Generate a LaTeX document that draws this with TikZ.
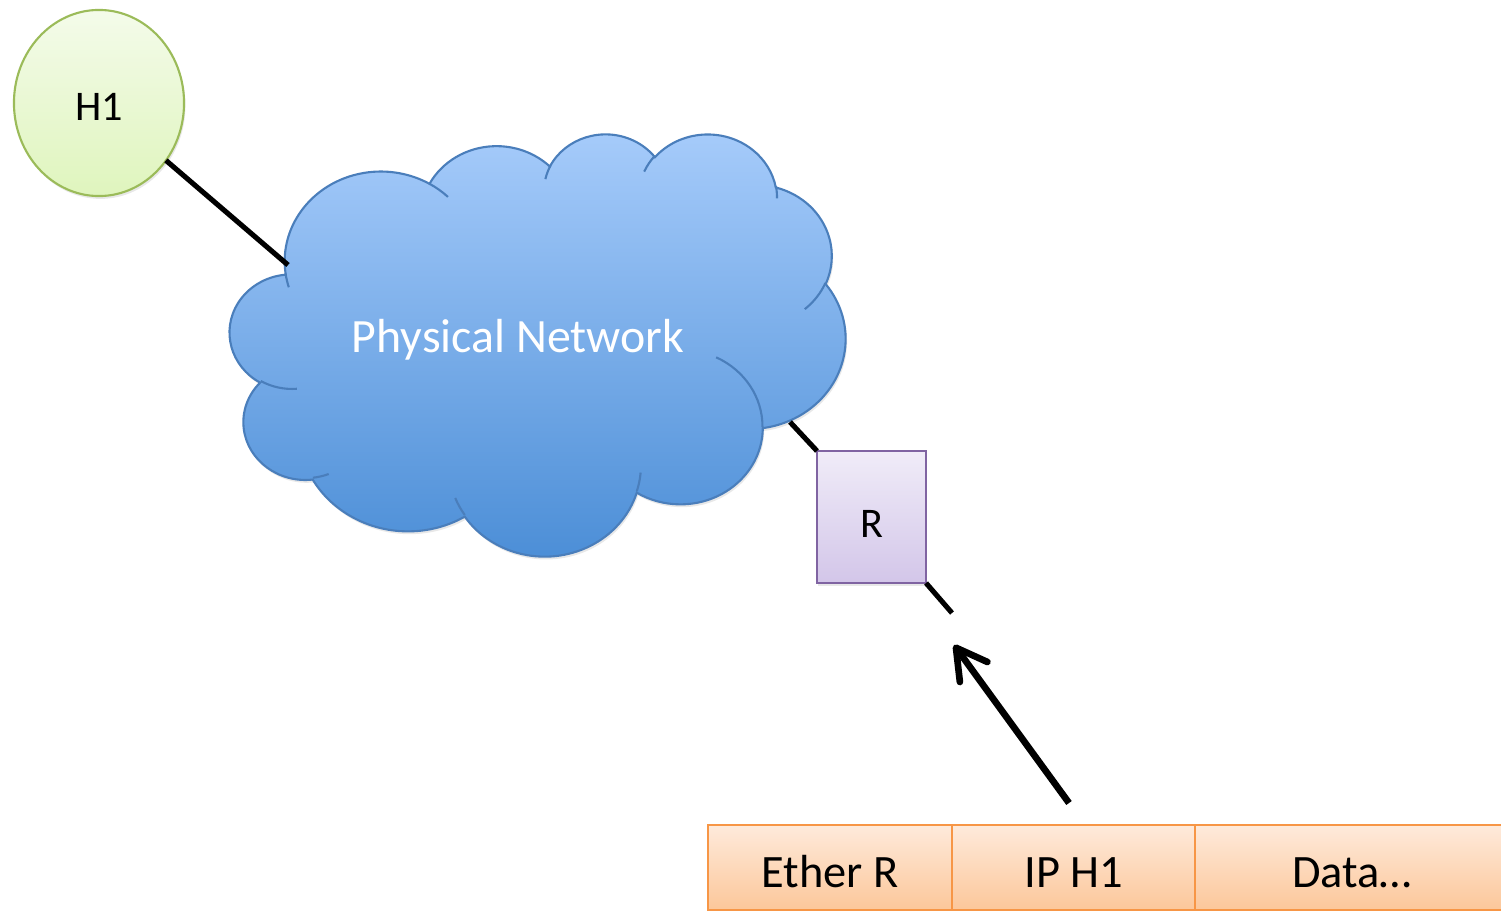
\documentclass[tikz,border=0pt]{standalone}
\usepackage{fontspec}
\setmainfont{Carlito}
\usetikzlibrary{shapes.geometric,arrows.meta,shadows}
\makeatletter
\pgfmathdeclarefunction{vp}{3}{%
  \begingroup
    \pgfmathparse{atan2((#1)*sin(#3),(#2)*cos(#3))-(#3)}%
    \let\vpd\pgfmathresult
    \pgfmathparse{(#3)+\vpd-360*round(\vpd/360)}%
    \pgfmath@smuggleone\pgfmathresult
  \endgroup}
\makeatother
\newcommand\carc[4]{arc[x radius=#1, y radius=#2, start angle={vp(#1,#2,#3)}, end angle={vp(#1,#2,(#3)+(#4))}]}
\definecolor{hosttop}{HTML}{F4FBEA}
\definecolor{hostbot}{HTML}{DFF5BD}
\definecolor{hostdraw}{HTML}{9BBB59}
\definecolor{rtrtop}{HTML}{F0ECF8}
\definecolor{rtrbot}{HTML}{D3C6E9}
\definecolor{rtrdraw}{HTML}{8064A2}
\definecolor{cloudtop}{HTML}{A7CCFB}
\definecolor{cloudbot}{HTML}{4A8DD6}
\definecolor{clouddraw}{HTML}{4A7EBB}
\definecolor{pkttop}{HTML}{FEEADB}
\definecolor{pktbot}{HTML}{FCC79A}
\definecolor{pktdraw}{HTML}{F79646}
\begin{document}
\begin{tikzpicture}[x=0.01cm,y=-0.01cm,
  softshadow/.style={drop shadow={opacity=0.18, shadow xshift=0.4pt, shadow yshift=-0.8pt}},
  host/.style={ellipse, minimum width=1.7cm, minimum height=1.86cm, inner sep=0pt, outer sep=0pt,
    draw=hostdraw, line width=0.6pt, top color=hosttop, bottom color=hostbot,
    font=\fontsize{12}{14}\selectfont, text height=3.4mm, text depth=0pt, softshadow},
  router/.style={rectangle, minimum width=1.09cm, minimum height=1.32cm, inner sep=0pt, outer sep=0pt,
    draw=rtrdraw, line width=0.6pt, top color=rtrtop, bottom color=rtrbot,
    font=\fontsize{12}{14}\selectfont, text height=4.0mm, text depth=0pt, softshadow},
  pkt/.style={rectangle, minimum height=0.85cm, inner sep=0pt, outer sep=0pt,
    draw=pktdraw, line width=0.6pt, top color=pkttop, bottom color=pktbot,
    font=\fontsize{13.2}{15}\selectfont, text height=3.9mm, text depth=0pt},
  cloudshape/.style={draw=clouddraw, line width=0.6pt, top color=cloudtop, bottom color=cloudbot, softshadow},
  cloudline/.style={draw=clouddraw, line width=0.6pt},
  cloudtext/.style={anchor=base, text=white, font=\fontsize{13.6}{16}\selectfont, inner sep=0pt},
  link/.style={line width=1.45pt, black},
  bigarrow/.style={line width=1.9pt, black, -{Straight Barb[round, length=3mm, width=3.4mm]}}
]
\fill[white] (0,0) rectangle (1501,912);
\useasboundingbox (0,0) rectangle (1501,912);

% cloud
\begin{scope}[shift={(230,133)}, x=0.014236cm, y=-0.0097685cm]
  \path[cloudshape] (39,143.70)
    \carc{67.53}{91.90}{-190.4875}{123.7805}
    \carc{53.33}{72.67}{-144.1024}{89.9452}
    \carc{43.65}{59.45}{-145.8079}{99.7230}
    \carc{48.57}{65.95}{-130.9861}{117.2417}
    \carc{53.33}{72.73}{-78.7089}{109.0269}
    \carc{67.75}{92.20}{-46.2673}{130.2690}
    \carc{57.85}{78.67}{0.6250}{114.0333}
    \carc{67.52}{92.15}{22.4516}{115.1726}
    \carc{77.20}{105.43}{66.2426}{75.7110}
    \carc{43.60}{59.18}{-274.9421}{146.7356}
    \carc{43.45}{59.45}{-246.8285}{152.5189}
    -- cycle;
  \path[cloudline]
    (46.93,261.77) \carc{43.45}{59.45}{86.742}{26.4295}
    (69.28,348.99) \carc{43.60}{59.18}{73.6105}{11.4475}
    (164.78,390.90) \carc{67.52}{92.15}{137.6242}{14.0811}
    (288.27,347.51) \carc{67.52}{92.15}{6.4533}{15.9984}
    (341.29,229.54) \carc{57.85}{78.67}{-70.2924}{70.9174}
    (417.98,153.54) \carc{53.33}{72.73}{30.3180}{27.7515}
    (383.24,54.26) \carc{48.57}{65.95}{-13.7443}{14.8589}
    (290.78,39.52) \carc{48.57}{65.95}{-149.1815}{18.1954}
    (221.41,47.20) \carc{43.65}{59.45}{-163.4943}{17.6864}
    (140.00,51.92) \carc{67.53}{91.90}{-66.7070}{12.3194}
    (41.27,157.89) \carc{67.53}{91.90}{157.6544}{11.8582};
\end{scope}
\node[cloudtext] (pn) at (518,352) {Physical Network};

% nodes
\node[host] (H1) at (99,103) {H1};
\node[router] (R) at (871.5,517) {R};

% packet
\node[pkt, minimum width=2.44cm, anchor=north west] (eth) at (708,825) {Ether R};
\node[pkt, minimum width=2.43cm, anchor=north west] (ip) at (eth.north east) {IP H1};
\node[pkt, minimum width=3.13cm, anchor=north west] (data) at (ip.north east) {Data…};

% connectors
\coordinate (cH) at (288,265);
\coordinate (cR) at (790,422);
\coordinate (rEnd) at (952,613);
\coordinate (aTail) at (1069,803);
\coordinate (aTip) at (954,645);
\draw[link] (H1) -- (cH);
\draw[link] (cR) -- (R.north west);
\draw[link] (R.south east) -- (rEnd);
\draw[bigarrow] (aTail) -- (aTip);
\end{tikzpicture}
\end{document}
